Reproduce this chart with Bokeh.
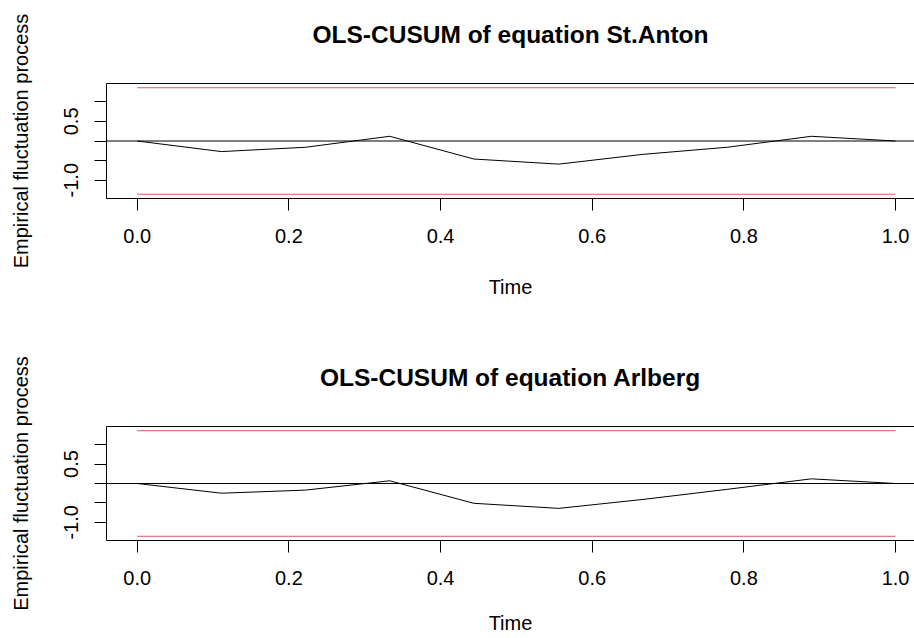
from bokeh.plotting import figure
from bokeh.layouts import column
from bokeh.models import FixedTicker, Range1d, Span, LinearAxis
from bokeh.embed import file_html
from bokeh.resources import INLINE

# ---- data ----
time = [0.0, 0.111, 0.222, 0.333, 0.444, 0.556, 0.667, 0.778, 0.889, 1.0]
st_anton = [0.0, -0.27, -0.16, 0.12, -0.46, -0.59, -0.34, -0.16, 0.12, 0.0]
arlberg = [0.0, -0.25, -0.17, 0.07, -0.51, -0.64, -0.41, -0.15, 0.12, 0.0]
boundary = 1.358
titles = ["OLS-CUSUM of equation St.Anton", "OLS-CUSUM of equation Arlberg"]
x_ticks = [0.0, 0.2, 0.4, 0.6, 0.8, 1.0]
x_labels = {0.0: "0.0", 0.2: "0.2", 0.4: "0.4", 0.6: "0.6", 0.8: "0.8", 1.0: "1.0"}
y_ticks = [-1.0, -0.5, 0.0, 0.5, 1.0]
y_labels = {1.0: "", 0.5: "0.5", 0.0: "", -0.5: "", -1.0: "-1.0"}
y_lim = 1.4666

FONT = "Liberation Sans"
RED = "#DF536B"


def panel(values, title, border_top, border_bottom, xlab_standoff):
    p = figure(width=914, height=319, output_backend="svg", toolbar_location=None,
               x_range=Range1d(-0.0405, 1.025), y_range=Range1d(-y_lim, y_lim),
               min_border_left=106, min_border_right=0,
               min_border_top=border_top, min_border_bottom=border_bottom,
               background_fill_color="white", border_fill_color="white")
    p.grid.visible = False
    p.outline_line_color = None

    for ax in (p.xaxis[0], p.yaxis[0]):
        ax.major_tick_out = 12
        ax.major_tick_in = 0
        ax.minor_tick_out = 0
        ax.minor_tick_in = 0
        ax.axis_line_color = "black"
        ax.major_tick_line_color = "black"
        ax.major_label_text_font = FONT
        ax.major_label_text_font_size = "20px"
        ax.major_label_text_color = "black"
        ax.axis_label_text_font = FONT
        ax.axis_label_text_font_size = "20px"
        ax.axis_label_text_font_style = "normal"
        ax.axis_label_text_color = "black"

    xa = p.xaxis[0]
    xa.ticker = FixedTicker(ticks=x_ticks)
    xa.major_label_overrides = x_labels
    xa.major_label_standoff = 18
    xa.axis_label = "Time"
    xa.axis_label_standoff = xlab_standoff

    ya = p.yaxis[0]
    ya.ticker = FixedTicker(ticks=y_ticks)
    ya.major_label_overrides = y_labels
    ya.major_label_orientation = "vertical"
    ya.major_label_standoff = 16
    ya.axis_label = "Empirical fluctuation process"
    ya.axis_label_standoff = 30

    # top edge of the box, carrying the panel title
    # (the right edge of the box lies outside the picture)
    top = LinearAxis(ticker=FixedTicker(ticks=[]), axis_line_color="black",
                     major_tick_out=0, major_tick_in=0, minor_tick_out=0, minor_tick_in=0,
                     major_label_text_font_size="0px", major_label_standoff=0,
                     axis_label=title, axis_label_standoff=36,
                     axis_label_text_font=FONT, axis_label_text_font_size="24.5px",
                     axis_label_text_font_style="bold", axis_label_text_color="black")
    p.add_layout(top, "above")

    # boundaries and zero line
    p.line([time[0], time[-1]], [boundary, boundary], line_color=RED, line_width=1)
    p.line([time[0], time[-1]], [-boundary, -boundary], line_color=RED, line_width=1)
    p.add_layout(Span(location=0, dimension="width", line_color="black", line_width=1))
    p.line(time, values, line_color="black", line_width=1)
    return p


p1 = panel(st_anton, titles[0], 83, 121, 30)
p2 = panel(arlberg, titles[1], 107, 98, 24)
layout = column(p1, p2, spacing=0)

open("out.html", "w").write(file_html(layout, INLINE))
